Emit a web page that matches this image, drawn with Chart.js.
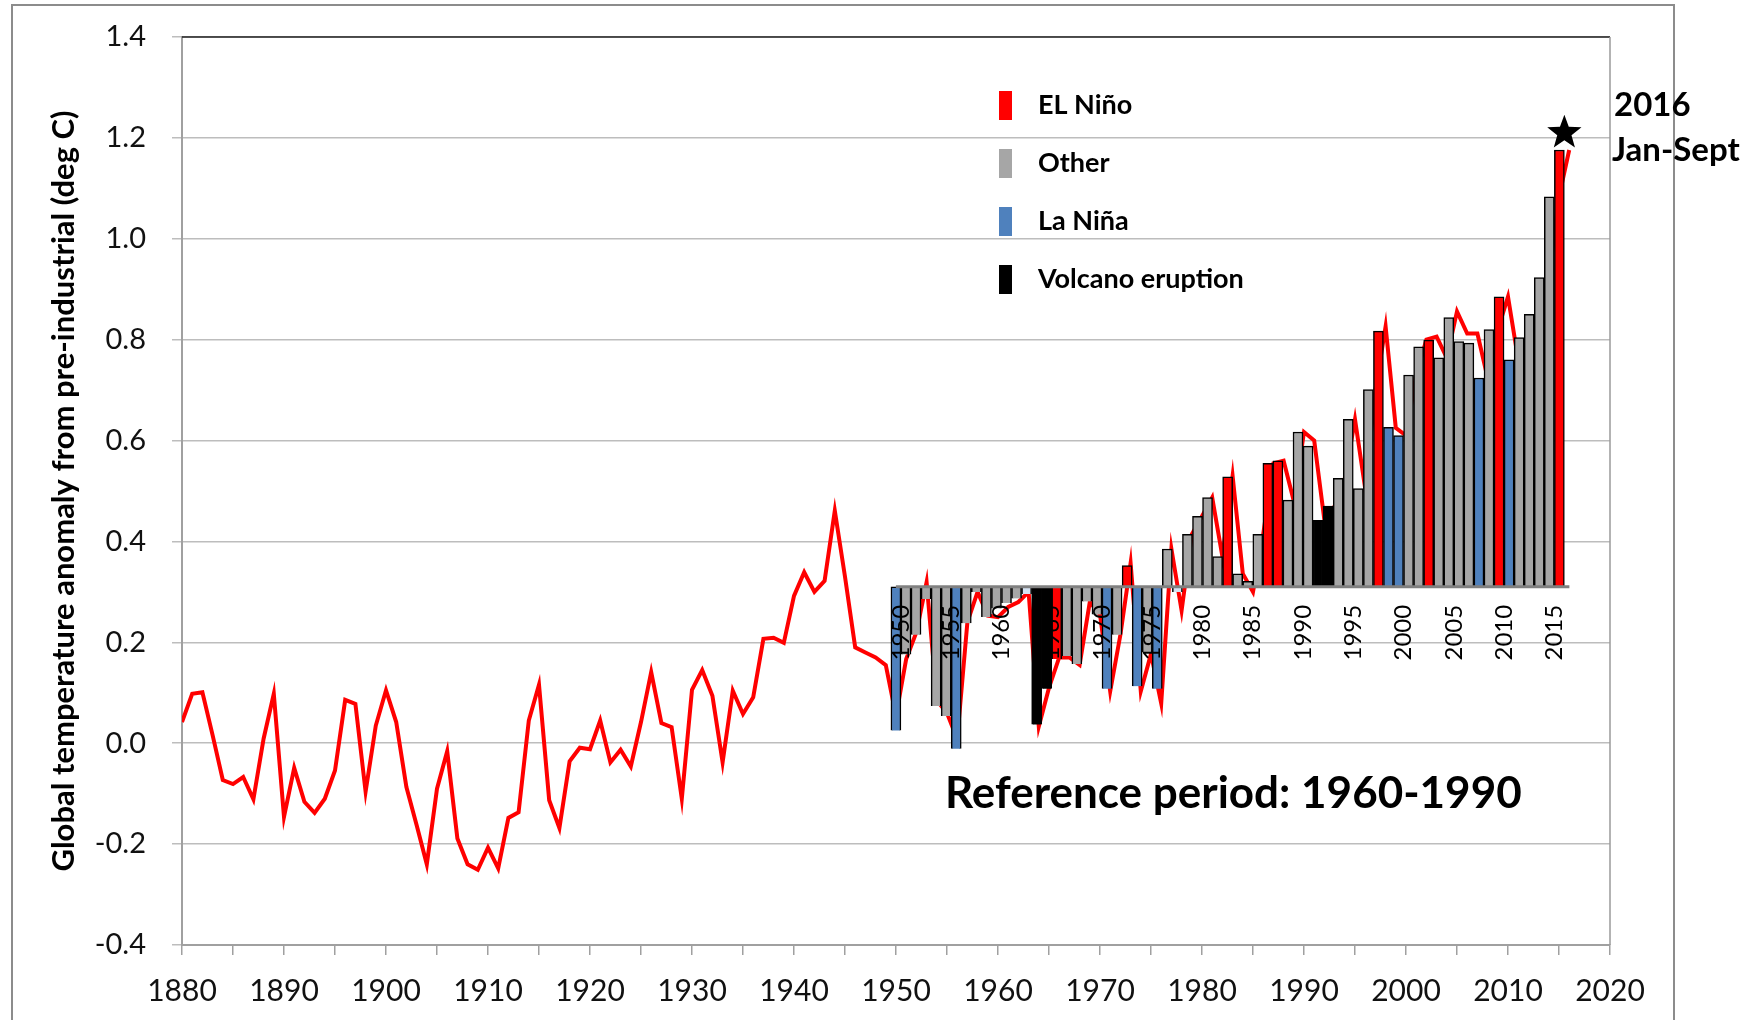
<!DOCTYPE html>
<html>
<head>
<meta charset="utf-8">
<script src="https://cdn.jsdelivr.net/npm/chart.js@4"></script>
<style>
  html, body { margin: 0; padding: 0; background: #fff; }
</style>
</head>
<body>
<canvas id="chart" width="1758" height="1020"></canvas>
<script>
// ---- data ----
const firstYear = 1880;
const anomaly = [
  0.042, 0.098, 0.101, 0.016, -0.073, -0.081, -0.067, -0.111, 0.009, 0.098,     // 1880s
  -0.146, -0.049, -0.116, -0.138, -0.110, -0.054, 0.086, 0.078, -0.096, 0.035,  // 1890s
  0.105, 0.042, -0.087, -0.162, -0.240, -0.090, -0.016, -0.189, -0.240, -0.251, // 1900s
  -0.207, -0.248, -0.148, -0.137, 0.045, 0.116, -0.113, -0.168, -0.036, -0.009, // 1910s
  -0.012, 0.045, -0.038, -0.013, -0.046, 0.042, 0.141, 0.040, 0.032, -0.110,    // 1920s
  0.106, 0.145, 0.094, -0.038, 0.104, 0.058, 0.091, 0.207, 0.209, 0.199,        // 1930s
  0.292, 0.339, 0.300, 0.322, 0.461, 0.330, 0.190, 0.180, 0.170, 0.155,         // 1940s
  0.054, 0.167, 0.220, 0.319, 0.085, 0.060, 0.008, 0.240, 0.300, 0.253,         // 1950s
  0.250, 0.270, 0.280, 0.300, 0.033, 0.110, 0.170, 0.170, 0.155, 0.280,         // 1960s
  0.255, 0.103, 0.215, 0.357, 0.103, 0.177, 0.079, 0.385, 0.263, 0.414,         // 1970s
  0.450, 0.487, 0.370, 0.530, 0.336, 0.300, 0.414, 0.555, 0.560, 0.480,         // 1980s
  0.617, 0.600, 0.442, 0.470, 0.525, 0.642, 0.505, 0.700, 0.826, 0.625,         // 1990s
  0.610, 0.730, 0.800, 0.806, 0.764, 0.856, 0.812, 0.812, 0.724, 0.820,         // 2000s
  0.885, 0.760, 0.804, 0.850, 0.923, 1.083, 1.176                               // 2010-2016
];

const barFirstYear = 1950;
const refBase = 0.31;   // 1960-1990 mean, the bars hang from it
const barValues = [
  0.025, 0.176, 0.215, 0.286, 0.074, 0.054, -0.011, 0.238, 0.300, 0.250,
  0.267, 0.278, 0.287, 0.296, 0.037, 0.108, 0.167, 0.173, 0.157, 0.281,
  0.255, 0.108, 0.215, 0.352, 0.113, 0.180, 0.108, 0.385, 0.300, 0.414,
  0.450, 0.487, 0.370, 0.528, 0.336, 0.321, 0.414, 0.555, 0.560, 0.482,
  0.617, 0.589, 0.442, 0.470, 0.525, 0.642, 0.505, 0.701, 0.817, 0.626,
  0.610, 0.730, 0.786, 0.799, 0.764, 0.844, 0.796, 0.793, 0.724, 0.820,
  0.885, 0.760, 0.804, 0.850, 0.923, 1.083, 1.176
];
// N = El Nino, O = other, L = La Nina, V = volcano, P = pale (weak)
const barKinds = [
  'L','O','O','O','O','O','L','O','O','O',
  'O','O','O','P','V','V','N','O','O','O',
  'O','L','O','N','L','O','L','O','P','O',
  'O','O','O','N','O','O','O','N','N','O',
  'O','O','V','V','O','O','O','O','N','L',
  'L','O','O','N','O','O','O','O','L','O',
  'N','L','O','O','O','O','N'
];
const kindColors = { N: '#ff0000', O: '#a6a6a6', L: '#4f81bd', V: '#000000', P: '#d5e2f2' };

const barLabelYears = [1950, 1955, 1960, 1965, 1970, 1975, 1980, 1985, 1990, 1995, 2000, 2005, 2010, 2015];
const legendLabels = ['EL Niño', 'Other', 'La Niña', 'Volcano eruption'];
const legendKinds = ['N', 'O', 'L', 'V'];
const yTicks = { min: -0.4, max: 1.4, step: 0.2 };
const xTicks = { min: 1880, max: 2020, step: 5 };
const starPoint = { year: 2016, value: 1.21 };

const linePoints = anomaly.map((v, i) => ({ x: firstYear + i, y: v }));
const barPoints = barValues.map((v, i) => ({ x: barFirstYear + i, y: [refBase, v] }));

const FONT = 'Lato, "Open Sans", "DejaVu Sans", sans-serif';

function drawStar(ctx, cx, cy, R, r) {
  ctx.beginPath();
  for (let i = 0; i < 10; i++) {
    const rad = i % 2 === 0 ? R : r;
    const a = -Math.PI / 2 + i * Math.PI / 5;
    const px = cx + rad * Math.cos(a), py = cy + rad * Math.sin(a);
    if (i === 0) ctx.moveTo(px, py); else ctx.lineTo(px, py);
  }
  ctx.closePath();
  ctx.fill();
}

const decorations = {
  id: 'decorations',
  beforeDraw(chart) {
    const ctx = chart.ctx;
    ctx.save();
    ctx.fillStyle = '#fff';
    ctx.fillRect(0, 0, chart.width, chart.height);
    // outer frame of the slide
    ctx.strokeStyle = '#8c8c8c';
    ctx.lineWidth = 2;
    ctx.strokeRect(12, 5, 1662, 1040);
    ctx.restore();
  },
  afterDatasetsDraw(chart) {
    const ctx = chart.ctx;
    const xb = chart.scales.xb, y = chart.scales.y;
    const area = chart.chartArea;
    ctx.save();
    // plot border: dark top, grey right
    ctx.strokeStyle = '#222';
    ctx.lineWidth = 1.5;
    ctx.beginPath(); ctx.moveTo(area.left, area.top); ctx.lineTo(area.right, area.top); ctx.stroke();
    ctx.strokeStyle = '#9a9a9a';
    ctx.beginPath(); ctx.moveTo(area.right, area.top); ctx.lineTo(area.right, area.bottom); ctx.stroke();

    // baseline of the bar overlay
    const yb = y.getPixelForValue(refBase);
    ctx.strokeStyle = '#808080';
    ctx.lineWidth = 3;
    ctx.beginPath();
    ctx.moveTo(xb.getPixelForValue(barFirstYear - 0.5), yb);
    ctx.lineTo(xb.getPixelForValue(barFirstYear + barValues.length - 0.5), yb);
    ctx.stroke();

    // year labels hanging under the baseline
    ctx.fillStyle = '#000';
    ctx.font = '24px ' + FONT;
    ctx.textAlign = 'right';
    ctx.textBaseline = 'middle';
    barLabelYears.forEach(yr => {
      ctx.save();
      ctx.translate(xb.getPixelForValue(yr), yb + 18);
      ctx.rotate(-Math.PI / 2);
      ctx.fillText(String(yr), 0, 0);
      ctx.restore();
    });

    // star on the 2016 bar
    drawStar(ctx, xb.getPixelForValue(starPoint.year), y.getPixelForValue(starPoint.value), 18, 7.5);

    // 2016 note
    ctx.textAlign = 'left';
    ctx.textBaseline = 'middle';
    ctx.font = 'bold 33px ' + FONT;
    ctx.fillText('2016', area.right + 4, 105);
    ctx.fillText('Jan-Sept', area.right + 2, 150);

    // legend
    ctx.font = 'bold 27px ' + FONT;
    legendLabels.forEach((lab, i) => {
      const cy = 105 + i * 58;
      ctx.fillStyle = kindColors[legendKinds[i]];
      ctx.fillRect(999, cy - 14, 13, 29);
      ctx.fillStyle = '#000';
      ctx.fillText(lab, 1038, cy);
    });

    // reference period note
    ctx.font = 'bold 44px ' + FONT;
    ctx.fillText('Reference period: 1960-1990', 945, 794);
    ctx.restore();
  }
};

new Chart(document.getElementById('chart'), {
  data: {
    datasets: [
      {
        type: 'bar',
        label: 'Annual anomaly (bars)',
        data: barPoints,
        xAxisID: 'xb',
        backgroundColor: barKinds.map(k => kindColors[k]),
        borderColor: '#000',
        borderWidth: 1.5,
        barThickness: 10,
        order: 0
      },
      {
        type: 'line',
        label: 'Global temperature anomaly',
        data: linePoints,
        xAxisID: 'x',
        borderColor: '#ff0000',
        borderWidth: 4,
        pointRadius: 0,
        tension: 0,
        fill: false,
        order: 1
      }
    ]
  },
  options: {
    responsive: false,
    animation: false,
    devicePixelRatio: 1,
    layout: { padding: { top: 37, right: 148, left: 0, bottom: 0 } },
    plugins: { legend: { display: false }, tooltip: { enabled: false } },
    scales: {
      x: {
        type: 'linear',
        min: xTicks.min, max: xTicks.max,
        afterFit: s => { s.height = 75; },
        ticks: {
          stepSize: xTicks.step,
          autoSkip: false,
          maxRotation: 0,
          padding: 18,
          color: '#111',
          font: { family: FONT, size: 30 },
          callback: v => (v % 10 === 0 ? String(v) : '')
        },
        grid: { drawOnChartArea: false, drawTicks: true, tickLength: 10, color: '#a0a0a0', lineWidth: 1.5 },
        border: { display: true, color: '#a0a0a0', width: 2 }
      },
      // the bar overlay sits on its own slightly narrower year axis
      xb: {
        type: 'linear',
        display: false,
        bounds: 'data',
        offset: false,
        min: 1878.48, max: 2020.54
      },
      y: {
        min: yTicks.min, max: yTicks.max,
        afterFit: s => { s.width = 182; s.paddingTop = 0; s.paddingBottom = 0; },
        ticks: {
          stepSize: yTicks.step,
          padding: 26,
          color: '#111',
          font: { family: FONT, size: 29 },
          callback: v => (Math.round(v * 10) / 10).toFixed(1)
        },
        grid: { color: '#bdbdbd', lineWidth: 1.5, tickLength: 10 },
        border: { display: true, color: '#a0a0a0', width: 2 },
        title: {
          display: true,
          text: 'Global temperature anomaly from pre-industrial (deg C)',
          color: '#000',
          font: { family: FONT, size: 31, weight: 'bold' },
          padding: { top: 45, bottom: 0 }
        }
      }
    }
  },
  plugins: [decorations]
});
</script>
</body>
</html>
